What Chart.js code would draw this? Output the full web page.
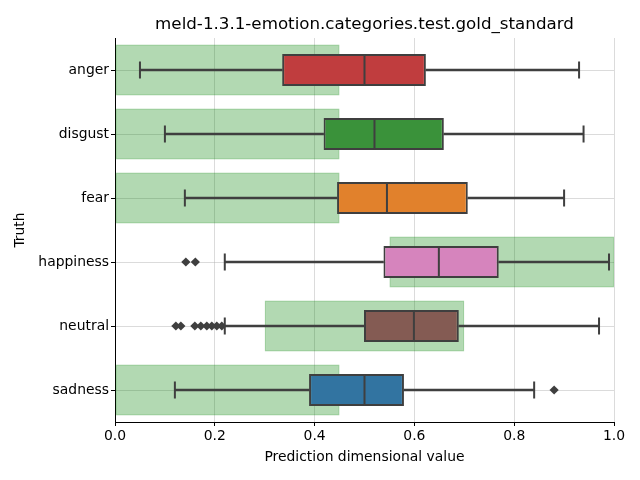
<!DOCTYPE html>
<html>
<head>
<meta charset="utf-8">
<script src="https://cdn.jsdelivr.net/npm/chart.js@4.4.1/dist/chart.umd.min.js"></script>
<style>
  html, body { margin: 0; padding: 0; background: #fff; }
</style>
</head>
<body>
<canvas id="emotionBoxChart" width="640" height="480"></canvas>
<script>
// Data
const categories = ['anger', 'disgust', 'fear', 'happiness', 'neutral', 'sadness'];
const whiskerLow  = [0.05, 0.10, 0.14, 0.22, 0.22, 0.12];
const q1          = [0.335, 0.418, 0.445, 0.538, 0.499, 0.389];
const median      = [0.50, 0.52, 0.545, 0.649, 0.599, 0.50];
const q3          = [0.623, 0.659, 0.707, 0.769, 0.689, 0.579];
const whiskerHigh = [0.93, 0.939, 0.90, 0.99, 0.97, 0.84];
const goldLow     = [0, 0, 0, 0.55, 0.30, 0];
const goldHigh    = [0.45, 0.45, 0.45, 1.0, 0.70, 0.45];
const happinessOutliers = [0.142, 0.161];
const neutralOutliers = [0.122, 0.132, 0.16, 0.172, 0.184, 0.194, 0.204, 0.214];
const sadnessOutliers = [0.88];
const xTicks = [0, 0.2, 0.4, 0.6, 0.8, 1.0];

const titleText = 'meld-1.3.1-emotion.categories.test.gold_standard';
const boxColors = ['#c03d3e', '#3a923a', '#e1812c', '#d684bd', '#845b53', '#3274a1'];
const edge = '#3f3f3f';
const font = '"DejaVu Sans", sans-serif';

// title centred over the plot area like matplotlib does
const centeredTitle = {
    id: 'centeredTitle',
    afterDraw(chart) {
        const { ctx, chartArea } = chart;
        ctx.save();
        ctx.font = '16.7px ' + font;
        ctx.fillStyle = '#000';
        ctx.textAlign = 'center';
        ctx.textBaseline = 'alphabetic';
        ctx.fillText(titleText, (chartArea.left + chartArea.right) / 2, 29);
        ctx.restore();
    }
};

const outlierPoints = [
    ...happinessOutliers.map(v => ({ x: v, y: 'happiness' })),
    ...neutralOutliers.map(v => ({ x: v, y: 'neutral' })),
    ...sadnessOutliers.map(v => ({ x: v, y: 'sadness' }))
];

new Chart(document.getElementById('emotionBoxChart'), {
    type: 'bar',
    data: {
        labels: categories,
        datasets: [
            {
                // gold standard range
                label: 'gold',
                data: categories.map((c, i) => [goldLow[i], goldHigh[i]]),
                backgroundColor: 'rgba(0, 128, 0, 0.3)',
                borderColor: 'rgba(0, 128, 0, 0.38)',
                borderWidth: 1.5,
                borderSkipped: false,
                barPercentage: 0.8,
                categoryPercentage: 1,
                grouped: false,
                order: 5
            },
            {
                label: 'box',
                data: categories.map((c, i) => [q1[i], q3[i]]),
                backgroundColor: boxColors,
                borderColor: edge,
                borderWidth: 2,
                borderSkipped: false,
                barPercentage: 0.5,
                categoryPercentage: 1,
                grouped: false,
                order: 4
            },
            {
                label: 'lower whisker',
                data: categories.map((c, i) => [whiskerLow[i], q1[i]]),
                backgroundColor: edge,
                borderWidth: 0,
                barThickness: 2,
                grouped: false,
                order: 3
            },
            {
                label: 'upper whisker',
                data: categories.map((c, i) => [q3[i], whiskerHigh[i]]),
                backgroundColor: edge,
                borderWidth: 0,
                barThickness: 2,
                grouped: false,
                order: 3
            },
            {
                type: 'scatter',
                label: 'caps',
                data: categories.flatMap((c, i) => [{ x: whiskerLow[i], y: c }, { x: whiskerHigh[i], y: c }]),
                pointStyle: 'line',
                rotation: 90,
                radius: 8.5,
                borderColor: edge,
                borderWidth: 2,
                order: 1
            },
            {
                type: 'scatter',
                label: 'median',
                data: categories.map((c, i) => ({ x: median[i], y: c })),
                pointStyle: 'line',
                rotation: 90,
                radius: 16,
                borderColor: edge,
                borderWidth: 2,
                order: 1
            },
            {
                type: 'scatter',
                label: 'outliers',
                data: outlierPoints,
                pointStyle: 'rectRot',
                radius: 4.6,
                backgroundColor: edge,
                borderWidth: 0,
                order: 1
            }
        ]
    },
    options: {
        indexAxis: 'y',
        responsive: false,
        animation: false,
        events: [],
        layout: { padding: { left: 0, right: 26, top: 38, bottom: 0 } },
        plugins: {
            legend: { display: false },
            tooltip: { enabled: false },
            title: { display: false }
        },
        scales: {
            x: {
                type: 'linear',
                min: 0,
                max: 1,
                afterBuildTicks: (axis) => { axis.ticks = xTicks.map(v => ({ value: v })); },
                afterFit: (axis) => { axis.height = 58; },
                ticks: {
                    callback: (value) => value.toFixed(1),
                    font: { family: font, size: 13.9 },
                    color: '#000',
                    padding: 2
                },
                grid: {
                    color: 'rgba(176, 176, 176, 0.45)',
                    tickColor: '#000',
                    tickLength: 4
                },
                border: { color: '#000', width: 1 },
                title: {
                    display: true,
                    text: 'Prediction dimensional value',
                    font: { family: font, size: 13.9 },
                    color: '#000',
                    padding: { top: 0, bottom: 14 }
                }
            },
            y: {
                type: 'category',
                afterFit: (axis) => { axis.width = 115; },
                ticks: {
                    font: { family: font, size: 13.9 },
                    color: '#000',
                    padding: 2
                },
                grid: {
                    offset: false,
                    color: 'rgba(176, 176, 176, 0.45)',
                    tickColor: '#000',
                    tickLength: 4
                },
                border: { color: '#000', width: 1 },
                title: {
                    display: true,
                    text: 'Truth',
                    font: { family: font, size: 13.9 },
                    color: '#000',
                    padding: { top: 12, bottom: 0 }
                }
            }
        }
    },
    plugins: [centeredTitle]
});
</script>
</body>
</html>
